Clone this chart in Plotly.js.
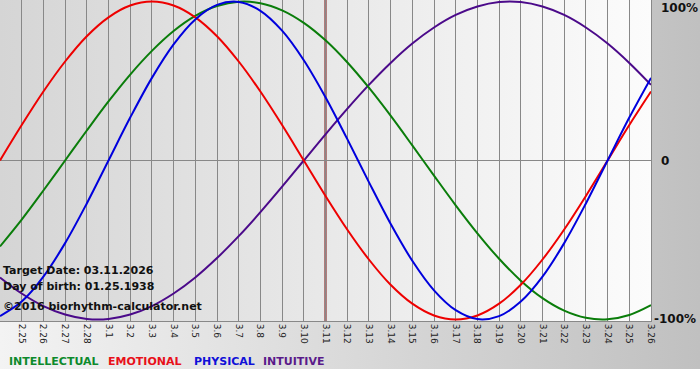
<!DOCTYPE html>
<html>
<head>
<meta charset="utf-8">
<script src="https://cdn.plot.ly/plotly-3.0.1.min.js"></script>
<style>
  html, body { margin: 0; padding: 0; background: #ffffff; }
  #chart {
    width: 700px; height: 380px;
    background:
      linear-gradient(to bottom, rgba(255,255,255,0) 369px, #ffffff 369px),
      linear-gradient(to right, #f3f3f3, #c0c0c0);
  }
</style>
</head>
<body>
<div id="chart"></div>
<script>
// ---- data ----
const dateLabels = ['2.24','2.25','2.26','2.27','2.28','3.1','3.2','3.3','3.4','3.5','3.6','3.7','3.8','3.9','3.10',
  '3.11','3.12','3.13','3.14','3.15','3.16','3.17','3.18','3.19','3.20','3.21','3.22','3.23','3.24','3.25','3.26'];

const intellectual = [-54.1,-37.2,-18.9,0,18.9,37.2,54.1,69.0,81.5,91.0,97.2,99.9,99.0,94.5,86.6,
  75.6,61.8,45.8,28.2,9.5,-9.5,-28.2,-45.8,-61.8,-75.6,-86.6,-94.5,-99.0,-99.9,-97.2,-91.0];
const emotional = [0,22.3,43.4,62.3,78.2,90.1,97.5,100,97.5,90.1,78.2,62.3,43.4,22.3,0,
  -22.3,-43.4,-62.3,-78.2,-90.1,-97.5,-100,-97.5,-90.1,-78.2,-62.3,-43.4,-22.3,0,22.3,43.4];
const physical = [-97.9,-88.8,-73.1,-52.0,-27.0,0,27.0,52.0,73.1,88.8,97.9,99.8,94.2,81.7,63.1,
  39.8,13.6,-13.6,-39.8,-63.1,-81.7,-94.2,-99.8,-97.9,-88.8,-73.1,-52.0,-27.0,0,27.0,52.0];
const intuitive = [-73.6,-83.7,-91.6,-96.9,-99.7,-99.7,-96.9,-91.6,-83.7,-73.6,-61.4,-47.6,-32.5,-16.5,0,
  16.5,32.5,47.6,61.4,73.6,83.7,91.6,96.9,99.7,99.7,96.9,91.6,83.7,73.6,61.4,47.6];

const seriesNames = ['INTELLECTUAL','EMOTIONAL','PHYSICAL','INTUITIVE'];
const targetLabel = '3.11';
const yTickValues = [100, 0, -100];
const yTickTexts = ['100%', '0', '-100%'];
const infoLines = ['Target Date: 03.11.2026', 'Day of birth: 01.25.1938', '\u00a92016 biorhythm-calculator.net'];

// ---- styling ----
const lineColors = ['#0a7d0a', '#ee0000', '#0000dd', '#4b0a8a'];
const legendColors = ['#0d8a2c', '#e8101a', '#1010d8', '#5a1a8a'];
const xIdx = dateLabels.map((_, i) => i);
const seriesData = [intellectual, emotional, physical, intuitive];
const drawOrder = [3, 0, 1, 2];

const traces = drawOrder.map(k => ({
  type: 'scatter', mode: 'lines', x: xIdx, y: seriesData[k], name: seriesNames[k],
  line: { color: lineColors[k], width: 2, shape: 'spline', smoothing: 1 },
  hoverinfo: 'skip'
}));

const targetIdx = dateLabels.indexOf(targetLabel);

const gradSvg = "<svg xmlns='http://www.w3.org/2000/svg' width='100' height='100' preserveAspectRatio='none'>" +
  "<defs><linearGradient id='g' x1='0' x2='1' y1='0' y2='0'>" +
  "<stop offset='0' stop-color='#d5d5d5'/><stop offset='1' stop-color='#fcfcfc'/></linearGradient></defs>" +
  "<rect width='100' height='100' fill='url(#g)'/></svg>";

const annotations = [];
const infoY = [0.156, 0.106, 0.046];
infoLines.forEach((t, i) => annotations.push({
  xref: 'paper', yref: 'paper', x: 0, y: infoY[i], xanchor: 'left', yanchor: 'middle', xshift: 1,
  text: t, showarrow: false, font: { family: 'DejaVu Sans', size: 11, color: '#111111', weight: 'bold' }
}));
yTickValues.forEach((v, i) => annotations.push({
  xref: 'paper', yref: 'y', x: 1, y: v, xanchor: 'left',
  yanchor: v >= 100 ? 'top' : 'middle',
  xshift: yTickTexts[i].startsWith('-') ? 1 : 8,
  yshift: v >= 100 ? 3 : 0,
  text: yTickTexts[i], showarrow: false,
  font: { family: 'DejaVu Sans', size: 12, color: '#111111', weight: 'bold' }
}));
const legendX = [7, 106, 192, 261];
seriesNames.forEach((n, i) => annotations.push({
  xref: 'paper', yref: 'paper', x: legendX[i] / 651, y: -40 / 321, xanchor: 'left', yanchor: 'middle',
  text: n, showarrow: false,
  font: { family: 'DejaVu Sans', size: 11, color: legendColors[i], weight: 'bold' }
}));

const layout = {
  width: 700, height: 380,
  margin: { l: 0, r: 49, t: 0, b: 59, pad: 0 },
  paper_bgcolor: 'rgba(0,0,0,0)',
  plot_bgcolor: 'rgba(0,0,0,0)',
  showlegend: false,
  xaxis: {
    range: [0, xIdx.length - 1], tickmode: 'array', tickvals: xIdx, ticktext: dateLabels,
    tickangle: 90, showgrid: true, gridcolor: '#888888', gridwidth: 1,
    showline: true, linecolor: '#888888', linewidth: 1, mirror: true,
    ticks: '', zeroline: false, fixedrange: true,
    tickfont: { family: 'DejaVu Sans', size: 9, color: '#222222' }
  },
  yaxis: {
    range: [-101, 101], tickmode: 'array', tickvals: [0], showticklabels: false,
    showgrid: true, gridcolor: '#888888', gridwidth: 1, zeroline: false,
    showline: true, linecolor: '#888888', linewidth: 1, mirror: true, fixedrange: true
  },
  images: [{
    source: 'data:image/svg+xml;charset=utf-8,' + encodeURIComponent(gradSvg),
    xref: 'paper', yref: 'paper', x: 0, y: 1, sizex: 1, sizey: 1,
    xanchor: 'left', yanchor: 'top', sizing: 'stretch', layer: 'below'
  }],
  shapes: [{
    type: 'line', xref: 'x', yref: 'paper', x0: targetIdx, x1: targetIdx, y0: 0, y1: 1,
    line: { color: '#7a1010', width: 2 }, layer: 'between'
  }],
  annotations: annotations
};

Plotly.newPlot('chart', traces, layout, { staticPlot: true, displayModeBar: false });
</script>
</body>
</html>
